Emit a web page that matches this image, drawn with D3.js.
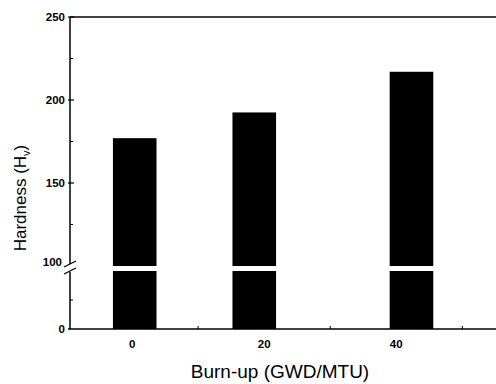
<!DOCTYPE html>
<html lang="en">
<head>
<meta charset="UTF-8">
<script src="https://cdnjs.cloudflare.com/ajax/libs/d3/7.8.5/d3.min.js"></script>
<style>
  body { margin: 0; background: #fff; }
  svg { display: block; font-family: Arial, "Liberation Sans", sans-serif; }
</style>
</head>
<body>
<svg id="chart" width="496" height="384"></svg>
<script>
// data
const burnup = [0.4, 18.5, 42.3];        // bar centres, GWD/MTU
const hardness = [177, 192.5, 217];      // Hv
const barWidth = 6.6;                    // in burn-up units
const xTickLabels = [0, 20, 40];
const xMinorTicks = [10, 30, 50];
const yUpperLabels = [150, 200, 250];
const yUpperMinor = [125, 175, 225];
const yLowerMinor = [50];

const svg = d3.select("#chart");
const mLeft = 70, mRight = 496, mTop = 17, mBottom = 329;

const x = d3.scaleLinear().domain([-9.4, 55.1]).range([mLeft, mRight]);
// broken y axis: two segments
const yUp = d3.scaleLinear().domain([100, 250]).range([266, mTop]);
const yLo = d3.scaleLinear().domain([0, 100]).range([mBottom, 271]);

// bars, drawn in two pieces
const bars = svg.append("g").attr("fill", "#000");
burnup.forEach((b, i) => {
  const x0 = x(b - barWidth / 2), w = x(b + barWidth / 2) - x0;
  bars.append("rect")
    .attr("x", x0).attr("width", w)
    .attr("y", yUp(hardness[i])).attr("height", yUp(100) - yUp(hardness[i]));
  bars.append("rect")
    .attr("x", x0).attr("width", w)
    .attr("y", yLo(100)).attr("height", yLo(0) - yLo(100));
});

const ax = svg.append("g").attr("stroke", "#000").attr("fill", "none");

// frame lines
ax.append("line").attr("x1", mLeft).attr("x2", mRight).attr("y1", mTop).attr("y2", mTop).attr("stroke-width", 1.3);
ax.append("line").attr("x1", mLeft - 2).attr("x2", mRight).attr("y1", mBottom).attr("y2", mBottom).attr("stroke-width", 1.5);
ax.append("line").attr("x1", mLeft).attr("x2", mLeft).attr("y1", mTop).attr("y2", 264).attr("stroke-width", 1.5);
ax.append("line").attr("x1", mLeft).attr("x2", mLeft).attr("y1", 272).attr("y2", mBottom).attr("stroke-width", 1.5);

// axis break marks
[264, 271].forEach(yy => {
  ax.append("line")
    .attr("x1", mLeft - 6).attr("y1", yy + 3)
    .attr("x2", mLeft + 6).attr("y2", yy - 3)
    .attr("stroke-width", 1.3);
});

// y ticks
yUpperLabels.forEach(v => {
  ax.append("line").attr("x1", mLeft - 2).attr("x2", mLeft + 4).attr("y1", yUp(v)).attr("y2", yUp(v)).attr("stroke-width", 1.2);
});
yUpperMinor.forEach(v => {
  ax.append("line").attr("x1", mLeft).attr("x2", mLeft + 3).attr("y1", yUp(v)).attr("y2", yUp(v)).attr("stroke-width", 1);
});
yLowerMinor.forEach(v => {
  ax.append("line").attr("x1", mLeft).attr("x2", mLeft + 3).attr("y1", yLo(v)).attr("y2", yLo(v)).attr("stroke-width", 1);
});
xMinorTicks.forEach(v => {
  ax.append("line").attr("x1", x(v)).attr("x2", x(v)).attr("y1", mBottom).attr("y2", mBottom - 3).attr("stroke-width", 1);
});

// tick labels
const lab = svg.append("g").attr("font-size", 11.5).attr("font-weight", "bold").attr("fill", "#000");
yUpperLabels.forEach(v => {
  lab.append("text").attr("x", mLeft - 5).attr("y", yUp(v)).attr("dy", "0.35em").attr("text-anchor", "end").text(v);
});
lab.append("text").attr("x", mLeft - 8).attr("y", 262).attr("dy", "0.35em").attr("text-anchor", "end").text(100);
lab.append("text").attr("x", mLeft - 5).attr("y", yLo(0)).attr("dy", "0.35em").attr("text-anchor", "end").text(0);
xTickLabels.forEach(v => {
  lab.append("text").attr("x", x(v)).attr("y", mBottom + 19).attr("text-anchor", "middle").text(v);
});

// axis titles
svg.append("text")
  .attr("x", 280).attr("y", 378)
  .attr("text-anchor", "middle").attr("font-size", 19)
  .text("Burn-up (GWD/MTU)");

const yt = svg.append("text")
  .attr("transform", "translate(26,198) rotate(-90)")
  .attr("text-anchor", "middle").attr("font-size", 17);
yt.append("tspan").text("Hardness (H");
yt.append("tspan").attr("font-size", 11).attr("dy", 4).text("v");
yt.append("tspan").attr("dy", -4).text(")");
</script>
</body>
</html>
